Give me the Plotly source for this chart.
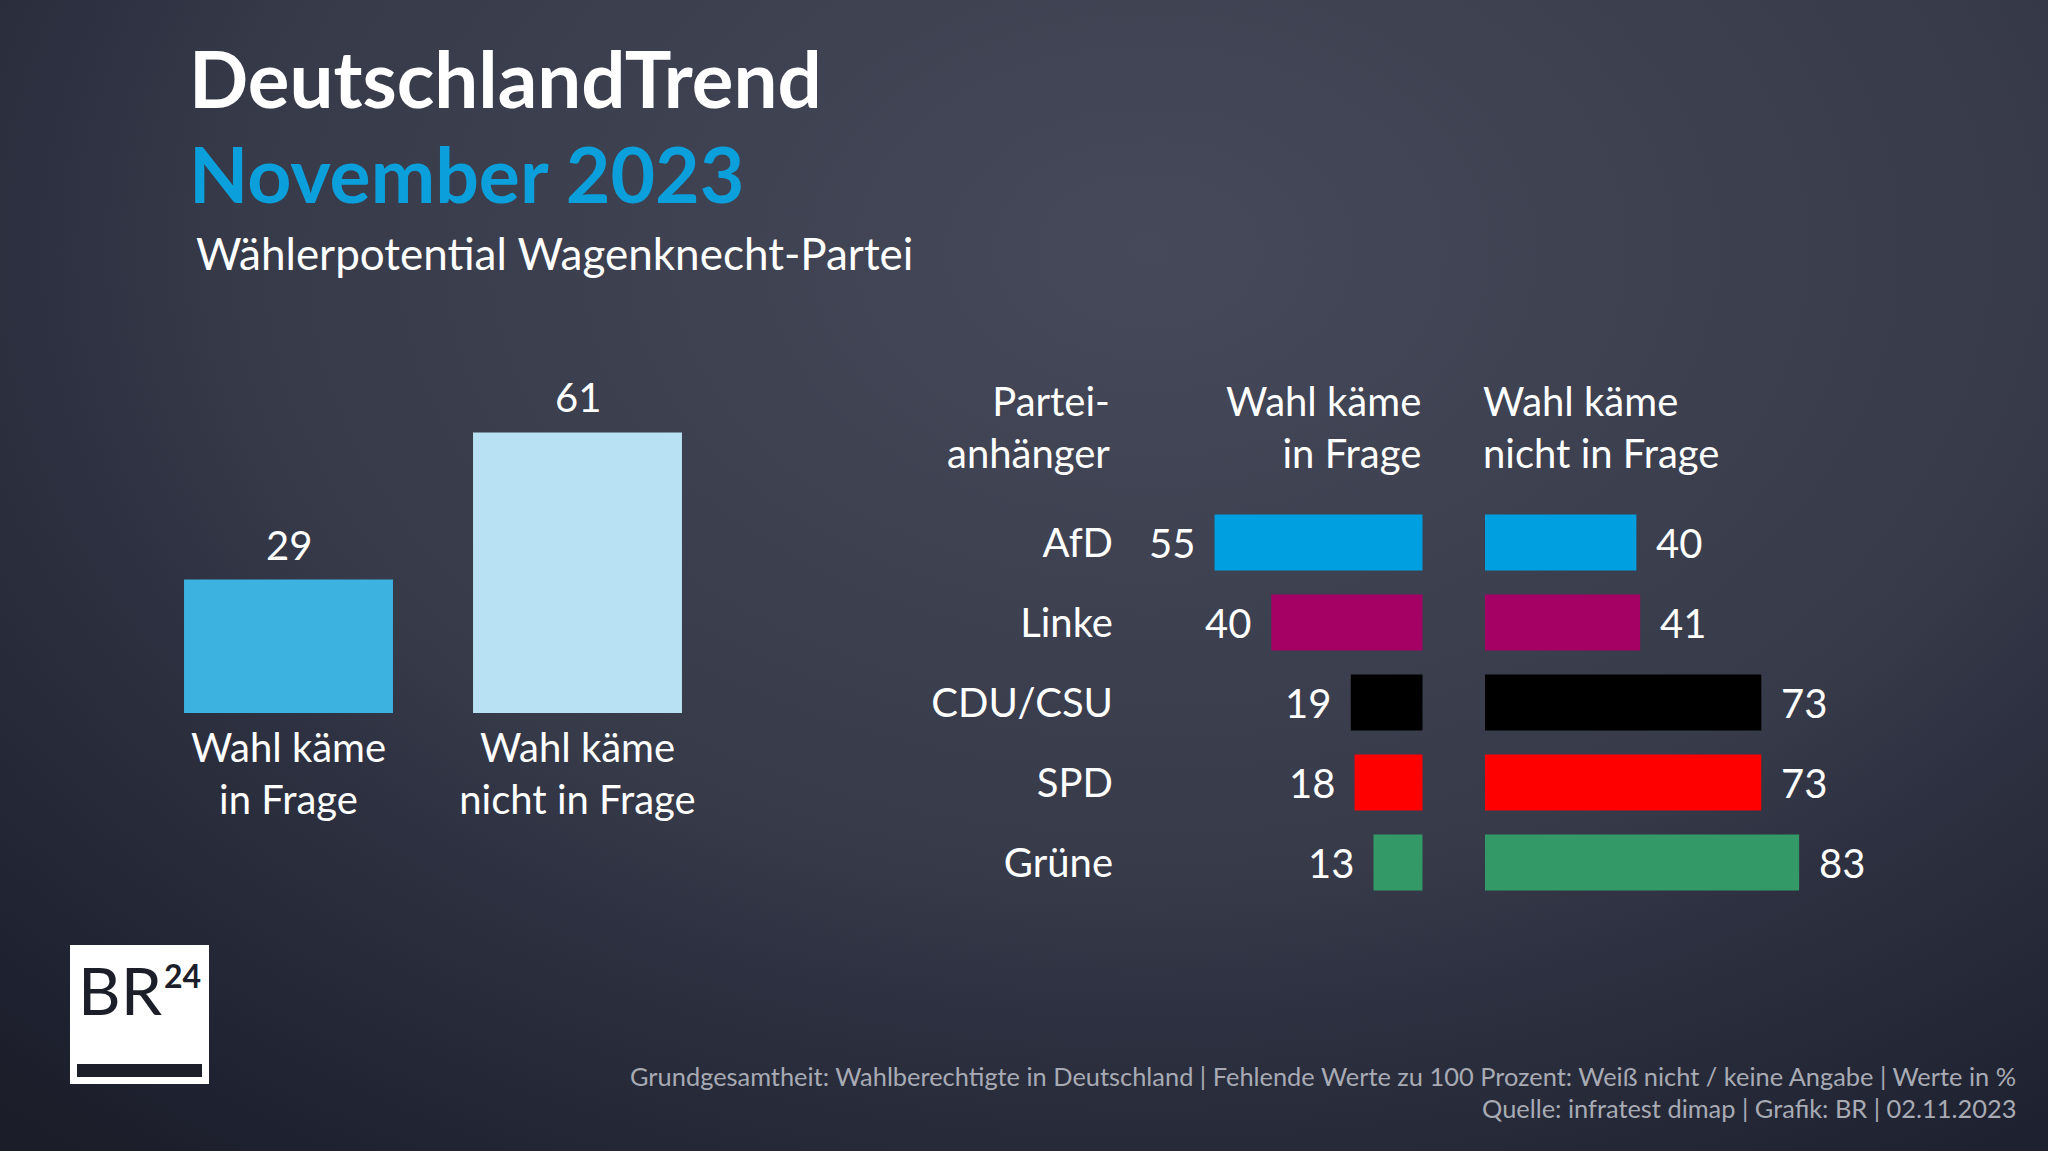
import base64
import plotly.graph_objects as go

W, H = 2048, 1151
FONT = "Lato"

# ---------------- data ----------------
overall_categories = ["Wahl käme<br>in Frage", "Wahl käme<br>nicht in Frage"]
overall_values = [29, 61]
overall_colors = ["#3cb2e0", "#b8e2f4"]

parties = ["AfD", "Linke", "CDU/CSU", "SPD", "Grüne"]
in_frage = [55, 40, 19, 18, 13]
nicht_in_frage = [40, 41, 73, 73, 83]
party_colors = ["#009fe0", "#a50064", "#000000", "#ff0000", "#339966"]

title = "DeutschlandTrend"
subtitle_month = "November 2023"
subtitle = "Wählerpotential Wagenknecht-Partei"
header_party = "Partei-<br>anhänger"
header_in = "Wahl käme<br>in Frage"
header_not = "Wahl käme<br>nicht in Frage"
footer1 = ("Grundgesamtheit: Wahlberechtigte in Deutschland | Fehlende Werte zu 100 Prozent: "
           "Weiß nicht / keine Angabe | Werte in %")
footer2 = "Quelle: infratest dimap | Grafik: BR | 02.11.2023"


def fx(p):
    return p / W


def fy(p):
    return 1 - p / H


# ---------------- background gradient ----------------
svg = f"""<svg xmlns='http://www.w3.org/2000/svg' width='{W}' height='{H}' viewBox='0 0 {W} {H}'>
<defs><radialGradient id='g' gradientUnits='userSpaceOnUse' cx='0' cy='0' r='1'
 gradientTransform='translate(1150 250) scale(1690 1170)'>
<stop offset='0' stop-color='#454959'/>
<stop offset='0.54' stop-color='#363a49'/>
<stop offset='0.65' stop-color='#2e3141'/>
<stop offset='0.72' stop-color='#2a2d3c'/>
<stop offset='0.9' stop-color='#1f2231'/>
<stop offset='1' stop-color='#1b1d28'/>
</radialGradient></defs>
<rect width='{W}' height='{H}' fill='url(#g)'/></svg>"""
bg_uri = "data:image/svg+xml;base64," + base64.b64encode(svg.encode()).decode()

fig = go.Figure()

# ---------------- left overview chart ----------------
fig.add_trace(go.Bar(
    x=overall_categories, y=overall_values, marker_color=overall_colors,
    marker_line_width=0, width=0.723, xaxis="x", yaxis="y", hoverinfo="skip",
))

# ---------------- right party chart ----------------
fig.add_trace(go.Bar(
    x=in_frage, y=parties, orientation="h", marker_color=party_colors,
    marker_line_width=0, width=0.7, xaxis="x2", yaxis="y2", hoverinfo="skip",
))
fig.add_trace(go.Bar(
    x=nicht_in_frage, y=parties, orientation="h", marker_color=party_colors,
    marker_line_width=0, width=0.7, xaxis="x3", yaxis="y3", hoverinfo="skip",
))

# axis geometry (pixels)
L_BASE, L_TOP = 713, 380
L_SCALE = 4.6
R_TOP, R_BOT = 502.6, 902.6
X2_L, X2_R = 1130, 1422.7
X3_L, X3_R = 1485, 2000
R_SCALE = 3.785

white = "#ffffff"
ann = []

# value labels above left bars
for c, v in zip(overall_categories, overall_values):
    ann.append(dict(x=c, y=v, xref="x", yref="y", text=str(v), showarrow=False,
                    yanchor="middle", yshift=35,
                    font=dict(family=FONT, size=40, color=white)))

# value labels for party bars
for p, v in zip(parties, in_frage):
    ann.append(dict(x=v, y=p, xref="x2", yref="y2", text=str(v), showarrow=False,
                    xanchor="right", xshift=-18,
                    font=dict(family=FONT, size=40, color=white)))
for p, v in zip(parties, nicht_in_frage):
    ann.append(dict(x=v, y=p, xref="x3", yref="y3", text=str(v), showarrow=False,
                    xanchor="left", xshift=18,
                    font=dict(family=FONT, size=40, color=white)))

# headers
HEAD_Y = fy(427)
ann.append(dict(x=fx(1112), y=HEAD_Y, xref="paper", yref="paper", text=header_party,
                showarrow=False, xanchor="right", yanchor="middle", align="right",
                font=dict(family=FONT, size=40, color=white)))
ann.append(dict(x=1, y=HEAD_Y, xref="x2 domain", yref="paper", text=header_in,
                showarrow=False, xanchor="right", yanchor="middle", align="right",
                font=dict(family=FONT, size=40, color=white)))
ann.append(dict(x=0, y=HEAD_Y, xref="x3 domain", yref="paper", text=header_not,
                showarrow=False, xanchor="left", yanchor="middle", align="left", xshift=-4,
                font=dict(family=FONT, size=40, color=white)))

# titles
ann.append(dict(x=fx(187), y=fy(78), xref="paper", yref="paper", text=f"<b>{title}</b>",
                showarrow=False, xanchor="left", yanchor="middle",
                font=dict(family=FONT, size=78, color=white)))
ann.append(dict(x=fx(187), y=fy(173), xref="paper", yref="paper", text=f"<b>{subtitle_month}</b>",
                showarrow=False, xanchor="left", yanchor="middle",
                font=dict(family=FONT, size=77, color="#0ba0db")))
ann.append(dict(x=fx(194), y=fy(253), xref="paper", yref="paper", text=subtitle,
                showarrow=False, xanchor="left", yanchor="middle",
                font=dict(family=FONT, size=44, color=white)))

# footer
ann.append(dict(x=fx(2018), y=fy(1076), xref="paper", yref="paper", text=footer1,
                showarrow=False, xanchor="right", yanchor="middle",
                font=dict(family=FONT, size=25.4, color="#a8abb4")))
ann.append(dict(x=fx(2018), y=fy(1108), xref="paper", yref="paper", text=footer2,
                showarrow=False, xanchor="right", yanchor="middle",
                font=dict(family=FONT, size=25.4, color="#a8abb4")))

# logo text
ann.append(dict(x=fx(120), y=fy(989), xref="paper", yref="paper", text="BR",
                showarrow=False, xanchor="center", yanchor="middle",
                font=dict(family=FONT, size=66, color="#1c1e29")))
ann.append(dict(x=fx(182), y=fy(975), xref="paper", yref="paper", text="<b>24</b>",
                showarrow=False, xanchor="center", yanchor="middle",
                font=dict(family=FONT, size=32, color="#1c1e29")))

shapes = [
    dict(type="rect", xref="paper", yref="paper", x0=fx(70), x1=fx(209), y0=fy(1084), y1=fy(945),
         fillcolor="#ffffff", line_width=0, layer="above"),
    dict(type="rect", xref="paper", yref="paper", x0=fx(77), x1=fx(202), y0=fy(1077), y1=fy(1064),
         fillcolor="#1c1e29", line_width=0, layer="above"),
]

fig.update_layout(
    width=W, height=H,
    margin=dict(l=0, r=0, t=0, b=0, pad=0),
    paper_bgcolor="#2a2d3b", plot_bgcolor="rgba(0,0,0,0)",
    showlegend=False,
    font=dict(family=FONT, color=white),
    images=[dict(source=bg_uri, xref="paper", yref="paper", x=0, y=1, sizex=1, sizey=1,
                 xanchor="left", yanchor="top", sizing="stretch", layer="below")],
    xaxis=dict(domain=[fx(144), fx(722)], range=[-0.5, 1.5], showgrid=False, zeroline=False,
               showline=False, ticks="", tickfont=dict(family=FONT, size=40, color=white),
               ticklabelstandoff=8, fixedrange=True),
    yaxis=dict(domain=[fy(L_BASE), fy(L_TOP)], range=[0, (L_BASE - L_TOP) / L_SCALE],
               visible=False, fixedrange=True),
    xaxis2=dict(domain=[fx(X2_L), fx(X2_R)], range=[(X2_R - X2_L) / R_SCALE, 0],
                visible=False, anchor="y2", fixedrange=True),
    yaxis2=dict(domain=[fy(R_BOT), fy(R_TOP)], type="category", categoryorder="array",
                categoryarray=parties, range=[4.5, -0.5], anchor="x2", showgrid=False,
                zeroline=False, showline=False, ticks="", ticklabelstandoff=16,
                tickfont=dict(family=FONT, size=40, color=white), fixedrange=True),
    xaxis3=dict(domain=[fx(X3_L), fx(X3_R)], range=[0, (X3_R - X3_L) / R_SCALE],
                visible=False, anchor="y3", fixedrange=True),
    yaxis3=dict(domain=[fy(R_BOT), fy(R_TOP)], matches="y2", anchor="x3", showgrid=False,
                zeroline=False, showline=False, showticklabels=False, ticks="",
                fixedrange=True),
    annotations=ann,
    shapes=shapes,
)

fig.write_html(
    "out.html",
    config={"displayModeBar": False, "staticPlot": False},
    post_script="document.body.style.margin='0';document.body.style.padding='0';"
                "document.body.style.background='#1b1d28';"
                "document.documentElement.style.overflow='hidden';",
)
